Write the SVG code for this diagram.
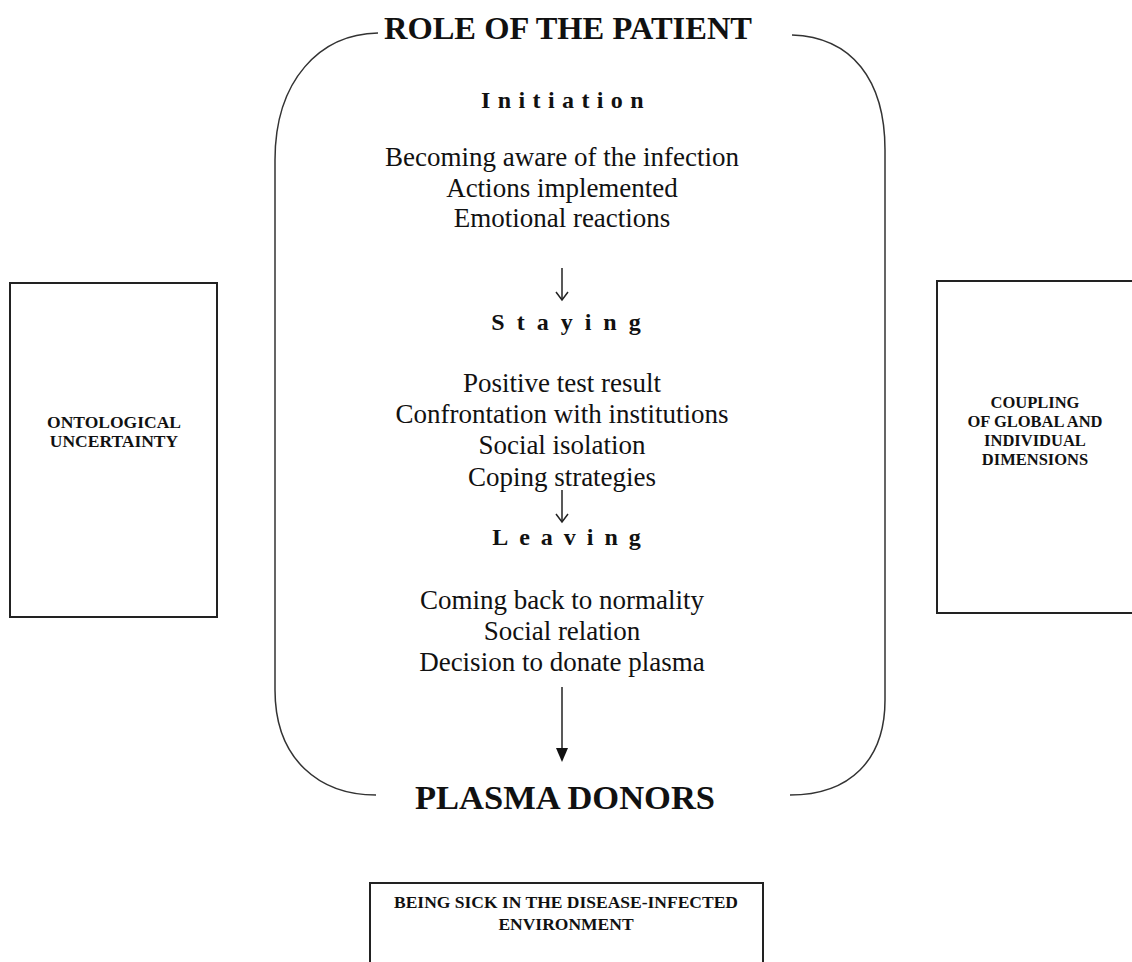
<svg xmlns="http://www.w3.org/2000/svg" width="1132" height="962" viewBox="0 0 1132 962">
<style>
text{font-family:"Liberation Serif","Times New Roman",serif;fill:#111;text-anchor:middle}
.title{font-size:32.5px;font-weight:bold}
.title2{font-size:34.5px;font-weight:bold}
.phase{font-size:24px;font-weight:bold}
.item{font-size:27px}
.box{fill:none;stroke:#222;stroke-width:2}
.small{font-weight:bold}
.curve{fill:none;stroke:#333;stroke-width:1.5}
.conn{fill:none;stroke:#222;stroke-width:1.5}
.head-open{fill:none;stroke:#222;stroke-width:1.5}
.head-solid{fill:#111}
</style>
<g id="patient-role">
<path class="curve" d="M378,33 C320,34 275,80 275,160 L275,690 C275,760 320,795 376,795"/>
<path class="curve" d="M792,35 C852,37 885,80 885,150 L885,700 C885,760 850,795 790,795"/>
<text class="title" x="568" y="39">ROLE OF THE PATIENT</text>
<text class="phase" x="566" y="108" letter-spacing="7.4">Initiation</text>
<text class="item" x="562" y="166">Becoming aware of the infection</text>
<text class="item" x="562" y="197">Actions implemented</text>
<text class="item" x="562" y="227">Emotional reactions</text>
<text class="phase" x="572" y="330" letter-spacing="12">Staying</text>
<text class="item" x="562" y="392">Positive test result</text>
<text class="item" x="562" y="423">Confrontation with institutions</text>
<text class="item" x="562" y="454">Social isolation</text>
<text class="item" x="562" y="486">Coping strategies</text>
<text class="phase" x="572" y="545" letter-spacing="11">Leaving</text>
<text class="item" x="562" y="609">Coming back to normality</text>
<text class="item" x="562" y="640">Social relation</text>
<text class="item" x="562" y="671">Decision to donate plasma</text>
</g>
<g id="plasma-donors">
<text class="title2" x="565" y="809">PLASMA DONORS</text>
</g>
<g id="ontological-uncertainty">
<rect class="box" x="10" y="283" width="207" height="334"/>
<text class="small" x="114" y="428" font-size="17.5">ONTOLOGICAL</text>
<text class="small" x="114" y="447" font-size="17.5">UNCERTAINTY</text>
</g>
<g id="coupling">
<rect class="box" x="937" y="281" width="200" height="332"/>
<text class="small" x="1035" y="408" font-size="16.5">COUPLING</text>
<text class="small" x="1035" y="427" font-size="16.5">OF GLOBAL AND</text>
<text class="small" x="1035" y="446" font-size="16.5">INDIVIDUAL</text>
<text class="small" x="1035" y="465" font-size="16.5">DIMENSIONS</text>
</g>
<g id="being-sick">
<rect class="box" x="370" y="883" width="393" height="90"/>
<text class="small" x="566" y="908" font-size="17.5">BEING SICK IN THE DISEASE-INFECTED</text>
<text class="small" x="566" y="930" font-size="17.5">ENVIRONMENT</text>
</g>
<g id="connectors">
<path class="conn" d="M562,268 L562,300"/>
<path class="head-open" d="M556,292 L562,300 L568,292"/>
<path class="conn" d="M562,490 L562,522"/>
<path class="head-open" d="M556,514 L562,522 L568,514"/>
<path class="conn" d="M562,687 L562,750"/>
<path class="head-solid" d="M556,748 L562,762 L568,748 Z"/>
</g>
</svg>
